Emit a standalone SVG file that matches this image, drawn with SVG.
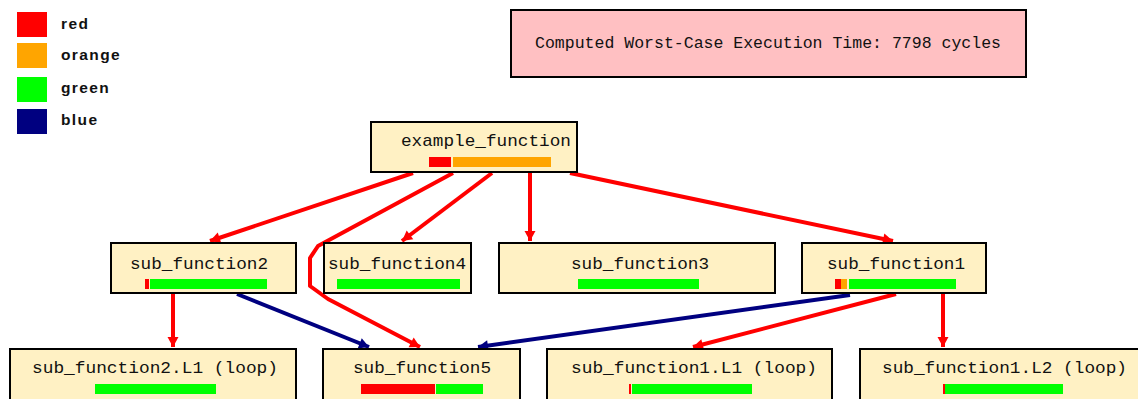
<svg xmlns="http://www.w3.org/2000/svg" width="1138" height="399" viewBox="0 0 1138 399">
  <style>
    .node { fill: #fff1c4; stroke: #000; stroke-width: 2; }
    .wcet { fill: #ffc0c2; stroke: #000; stroke-width: 2; }
    .lbl { font-family: "Liberation Mono", "DejaVu Sans Mono", monospace; font-size: 17px; fill: #111; }
    .wlbl { font-family: "Liberation Mono", "DejaVu Sans Mono", monospace; font-size: 16px; fill: #111; }
    .leg { font-family: "Liberation Sans", Arial, sans-serif; font-size: 15.5px; font-weight: bold; letter-spacing: 1.4px; fill: #111; }
    .r { fill: #ff0000; }
    .o { fill: #ffa500; }
    .g { fill: #00ff00; }
    .b { fill: #000080; }
    .call { fill: none; stroke: #ff0000; stroke-width: 4; stroke-linejoin: round; marker-end: url(#ah-red); }
    .ret { fill: none; stroke: #000080; stroke-width: 4; stroke-linejoin: round; marker-end: url(#ah-blue); }
  </style>
  <defs>
    <marker id="ah-red" markerUnits="userSpaceOnUse" markerWidth="14" markerHeight="14" viewBox="0 0 14 14" refX="12" refY="7" orient="auto">
      <path d="M2,1.5 L12,7 L2,12.5 Z" fill="#ff0000"/>
    </marker>
    <marker id="ah-blue" markerUnits="userSpaceOnUse" markerWidth="14" markerHeight="14" viewBox="0 0 14 14" refX="12" refY="7" orient="auto">
      <path d="M2,1.5 L12,7 L2,12.5 Z" fill="#000080"/>
    </marker>
  </defs>

  <rect width="1138" height="399" fill="#ffffff"/>

  <!-- colour legend -->
  <g id="legend">
    <rect class="r" x="17" y="12" width="30" height="25"/>
    <rect class="o" x="17" y="43" width="30" height="25"/>
    <rect class="g" x="17" y="77" width="30" height="25"/>
    <rect class="b" x="17" y="109" width="30" height="25"/>
    <text class="leg" x="61" y="29">red</text>
    <text class="leg" x="61" y="60">orange</text>
    <text class="leg" x="61" y="93">green</text>
    <text class="leg" x="61" y="125">blue</text>
  </g>

  <!-- summary -->
  <g id="wcet">
    <rect class="wcet" x="511" y="10" width="515" height="67"/>
    <text class="wlbl" x="535" y="48" textLength="466" lengthAdjust="spacingAndGlyphs">Computed Worst-Case Execution Time: 7798 cycles</text>
  </g>

  <!-- call edges (red) and shared-callee edges (blue) -->
  <g id="connectors">
    <path class="call" d="M413,173 L210,241"/>
    <path class="call" d="M453,173 L318,246 L310,258 L310,286 L328,299 L420,347"/>
    <path class="call" d="M492,173 L402,241"/>
    <path class="call" d="M530,173 L530,241"/>
    <path class="call" d="M570,173 L893,241"/>
    <path class="call" d="M173,294 L173,347"/>
    <path class="ret" d="M237,294 L369,347"/>
    <path class="ret" d="M850,295 L478,347"/>
    <path class="call" d="M896,294 L693,347"/>
    <path class="call" d="M943,294 L943,347"/>
  </g>

  <g id="example_function">
    <rect class="node" x="371" y="122" width="206" height="50"/>
    <text class="lbl" x="401" y="146" textLength="170" lengthAdjust="spacingAndGlyphs">example_function</text>
    <rect class="r" x="429" y="157" width="22" height="10"/>
    <rect class="o" x="453" y="157" width="98" height="10"/>
  </g>

  <g id="sub_function2">
    <rect class="node" x="111" y="243" width="185" height="50"/>
    <text class="lbl" x="130" y="269" textLength="138" lengthAdjust="spacingAndGlyphs">sub_function2</text>
    <rect class="r" x="145" y="279" width="4" height="10"/>
    <rect class="g" x="150" y="279" width="117" height="10"/>
  </g>

  <g id="sub_function4">
    <rect class="node" x="324" y="243" width="147" height="50"/>
    <text class="lbl" x="328" y="269" textLength="138" lengthAdjust="spacingAndGlyphs">sub_function4</text>
    <rect class="g" x="337" y="279" width="123" height="10"/>
  </g>

  <g id="sub_function3">
    <rect class="node" x="499" y="243" width="276" height="50"/>
    <text class="lbl" x="571" y="269" textLength="138" lengthAdjust="spacingAndGlyphs">sub_function3</text>
    <rect class="g" x="578" y="279" width="121" height="10"/>
  </g>

  <g id="sub_function1">
    <rect class="node" x="802" y="243" width="184" height="50"/>
    <text class="lbl" x="827" y="269" textLength="138" lengthAdjust="spacingAndGlyphs">sub_function1</text>
    <rect class="r" x="835" y="279" width="6" height="10"/>
    <rect class="o" x="841" y="279" width="6" height="10"/>
    <rect class="g" x="849" y="279" width="107" height="10"/>
  </g>

  <g id="sub_function2_L1">
    <rect class="node" x="10" y="349" width="286" height="60"/>
    <text class="lbl" x="32" y="373" textLength="246" lengthAdjust="spacingAndGlyphs">sub_function2.L1 (loop)</text>
    <rect class="g" x="95" y="384" width="121" height="10"/>
  </g>

  <g id="sub_function5">
    <rect class="node" x="323" y="349" width="197" height="60"/>
    <text class="lbl" x="353" y="373" textLength="138" lengthAdjust="spacingAndGlyphs">sub_function5</text>
    <rect class="r" x="361" y="384" width="74" height="10"/>
    <rect class="g" x="436" y="384" width="47" height="10"/>
  </g>

  <g id="sub_function1_L1">
    <rect class="node" x="547" y="349" width="285" height="60"/>
    <text class="lbl" x="571" y="373" textLength="246" lengthAdjust="spacingAndGlyphs">sub_function1.L1 (loop)</text>
    <rect class="r" x="629" y="384" width="2" height="10"/>
    <rect class="g" x="632" y="384" width="120" height="10"/>
  </g>

  <g id="sub_function1_L2">
    <rect class="node" x="860" y="349" width="290" height="60"/>
    <text class="lbl" x="882" y="373" textLength="245" lengthAdjust="spacingAndGlyphs">sub_function1.L2 (loop)</text>
    <rect class="r" x="943" y="384" width="2" height="10"/>
    <rect class="g" x="945" y="384" width="118" height="10"/>
  </g>
</svg>
